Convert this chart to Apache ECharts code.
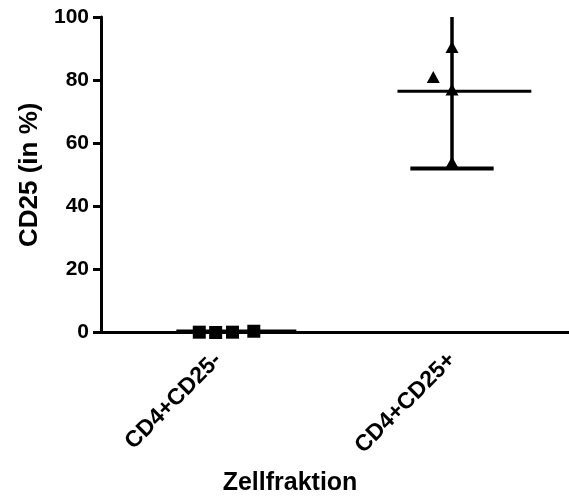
<!DOCTYPE html>
<html>
<head>
<meta charset="utf-8">
<style>
  html, body { margin: 0; padding: 0; background: #fff; }
  #chart { width: 569px; height: 498px; }
</style>
<script src="https://cdn.jsdelivr.net/npm/echarts@6/dist/echarts.min.js"></script>
</head>
<body>
<div id="chart"></div>
<script>
// Cell fractions on the x axis
const categories = ['CD4+CD25-', 'CD4+CD25+'];
const yTicks = [0, 20, 40, 60, 80, 100];

// Individual measurements (CD25 in %) per fraction
const negValues = [0.1, 0.0, 0.1, 0.4];
const posValues = [90.5, 81, 77, 54];
// horizontal jitter of each point within its column (in category units)
const negJitter = [-0.08, -0.01, 0.062, 0.153];
const posJitter = [0, -0.08, 0, 0];

// Summary per fraction: mean and error bar limits
const means = [0.5, 76.5];
const meanSpan = [[-0.178, 0.335], [-0.233, 0.339]];
const errLow = [0.5, 52];
const errHigh = [0.5, 101];
const capSpan = [0.178, 0.178];

const Y_MAX = 100;
const FONT = '"Liberation Sans", Arial, Helvetica, sans-serif';

const chart = echarts.init(document.getElementById('chart'), null, { renderer: 'canvas' });

function pts(values, jitter, idx) {
  return values.map((v, i) => [idx + jitter[i], v]);
}

const series = [];
// mean lines
means.forEach((m, i) => {
  series.push({
    type: 'line', xAxisIndex: 1, yAxisIndex: 0,
    data: [[i + meanSpan[i][0], m], [i + meanSpan[i][1], m]],
    symbol: 'none', lineStyle: { color: '#000', width: 3 }, silent: true, z: 3
  });
});
// error bar of the second fraction: stem (cut at the axis top) and lower cap
[1].forEach(i => {
  series.push({
    type: 'line', xAxisIndex: 1, yAxisIndex: 0,
    data: [[i, errLow[i]], [i, Math.min(errHigh[i], Y_MAX)]],
    symbol: 'none', lineStyle: { color: '#000', width: 3.5 }, silent: true, z: 3
  });
  series.push({
    type: 'line', xAxisIndex: 1, yAxisIndex: 0,
    data: [[i - capSpan[i], errLow[i]], [i + capSpan[i], errLow[i]]],
    symbol: 'none', lineStyle: { color: '#000', width: 4 }, silent: true, z: 3
  });
});
series.push({
  type: 'scatter', xAxisIndex: 1, yAxisIndex: 0,
  data: pts(negValues, negJitter, 0),
  symbol: 'rect', symbolSize: 13,
  itemStyle: { color: '#000', opacity: 1 }, z: 4
});
series.push({
  type: 'scatter', xAxisIndex: 1, yAxisIndex: 0,
  data: pts(posValues, posJitter, 1),
  symbol: 'triangle', symbolSize: [13, 12],
  itemStyle: { color: '#000', opacity: 1 }, z: 4
});

chart.setOption({
  animation: false,
  backgroundColor: '#fff',
  grid: { left: 101, right: -4, top: 17, bottom: 165.5, containLabel: false },
  xAxis: [
    {
      type: 'category',
      data: categories,
      boundaryGap: true,
      axisLine: { lineStyle: { color: '#000', width: 3 } },
      axisTick: { alignWithLabel: true, length: 10, lineStyle: { color: '#000', width: 3 } },
      axisLabel: {
        rotate: 45, margin: 24, color: '#000',
        fontFamily: FONT, fontWeight: 'bold', fontSize: 23
      },
      splitLine: { show: false }
    },
    {
      type: 'value', min: -0.5, max: 1.5, show: false
    }
  ],
  yAxis: {
    type: 'value', min: 0, max: Y_MAX, interval: 20,
    name: 'CD25 (in %)',
    nameLocation: 'middle',
    nameGap: 55,
    nameTextStyle: { color: '#000', fontFamily: FONT, fontWeight: 'bold', fontSize: 26 },
    axisLine: { show: true, onZero: false, lineStyle: { color: '#000', width: 3 } },
    axisTick: { show: true, length: 8, lineStyle: { color: '#000', width: 3 } },
    axisLabel: {
      margin: 12, color: '#000', fontFamily: FONT, fontWeight: 'bold', fontSize: 21,
      formatter: v => (yTicks.indexOf(v) >= 0 ? String(v) : '')
    },
    splitLine: { show: false }
  },
  graphic: [{
    type: 'text', x: 290, y: 471,
    style: {
      text: 'Zellfraktion', align: 'center', verticalAlign: 'top',
      fill: '#000', font: 'bold 25px ' + FONT
    }
  }],
  series: series
});
</script>
</body>
</html>
